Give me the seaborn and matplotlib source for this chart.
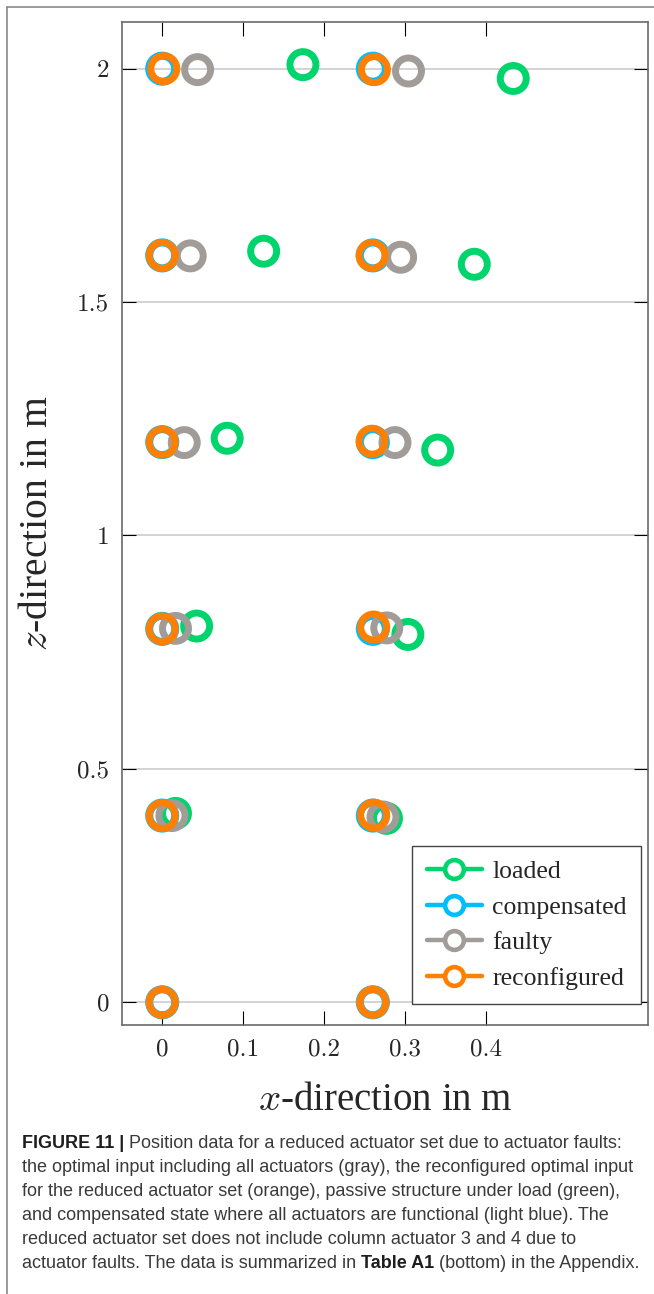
import matplotlib
matplotlib.use("Agg")
import matplotlib.pyplot as plt
import seaborn as sns
from matplotlib.lines import Line2D

# ---- node positions (x, z) in metres for each state ----
loaded_x = [0.0, 0.0164, 0.0425, 0.0802, 0.1252, 0.1737,
            0.26, 0.2768, 0.3032, 0.3400, 0.3852, 0.4333]
loaded_z = [0.0, 0.4047, 0.806, 1.2083, 1.609, 2.0086,
            0.0, 0.394, 0.788, 1.183, 1.581, 1.979]

compensated_x = [0.0, 0.0, 0.0, 0.0, 0.0, 0.0,
                 0.26, 0.26, 0.26, 0.26, 0.26, 0.26]
compensated_z = [0.0, 0.4, 0.8, 1.2, 1.6, 2.0,
                 0.0, 0.4, 0.8, 1.2, 1.6, 2.0]

faulty_x = [0.0, 0.012, 0.0164, 0.0272, 0.0346, 0.0437,
            0.26, 0.2725, 0.2772, 0.2873, 0.2943, 0.304]
faulty_z = [0.0, 0.400, 0.801, 1.199, 1.599, 1.998,
            0.0, 0.397, 0.802, 1.199, 1.596, 1.995]

reconfigured_x = [0.0, 0.0, 0.0, 0.0, 0.0, 0.002,
                  0.26, 0.261, 0.261, 0.259, 0.259, 0.262]
reconfigured_z = [0.0, 0.4, 0.8, 1.2, 1.6, 2.0,
                  0.0, 0.401, 0.804, 1.202, 1.6, 1.998]

series_names = ["loaded", "compensated", "faulty", "reconfigured"]
series_colors = ["#00d46c", "#00bdfd", "#a19c98", "#ff8000"]

x_ticks = [0.0, 0.1, 0.2, 0.3, 0.4]
x_tick_labels = ["0", "0.1", "0.2", "0.3", "0.4"]
z_ticks = [0.0, 0.5, 1.0, 1.5, 2.0]
z_tick_labels = ["0", "0.5", "1", "1.5", "2"]

caption_lines = [
    [("FIGURE 11 |", True), (" Position data for a reduced actuator set due to actuator faults:", False)],
    [("the optimal input including all actuators (gray), the reconfigured optimal input", False)],
    [("for the reduced actuator set (orange), passive structure under load (green),", False)],
    [("and compensated state where all actuators are functional (light blue). The", False)],
    [("reduced actuator set does not include column actuator 3 and 4 due to", False)],
    [("actuator faults. The data is summarized in ", False), ("Table A1", True),
     (" (bottom) in the Appendix.", False)],
]

sns.set_style("white")
plt.rcParams["font.family"] = ["Liberation Serif", "DejaVu Serif"]
plt.rcParams["mathtext.fontset"] = "cm"

W, H = 654, 1294
fig = plt.figure(figsize=(W / 100, H / 100), dpi=100)
ax_l, ax_r, ax_t, ax_b = 121.7, 648.3, 22.0, 1024.7
ax = fig.add_axes([ax_l / W, 1 - ax_b / H, (ax_r - ax_l) / W, (ax_b - ax_t) / H])

all_x = [loaded_x, compensated_x, faulty_x, reconfigured_x]
all_z = [loaded_z, compensated_z, faulty_z, reconfigured_z]
edge_widths = [5.0, 5.8, 5.0, 5.0]
for k, (xs, zs, col, lw) in enumerate(zip(all_x, all_z, series_colors, edge_widths)):
    sns.scatterplot(x=xs, y=zs, ax=ax, marker="o", s=350, facecolor="none",
                    edgecolor=col, linewidth=lw, zorder=3 + k, legend=False)

ax.set_xlim(-0.05, 0.6)
ax.set_ylim(-0.048, 2.1)

ax.set_xticks(x_ticks, labels=x_tick_labels, fontfamily="cmr10", fontsize=18)
ax.set_yticks(z_ticks, labels=z_tick_labels, fontfamily="cmr10", fontsize=18)
ax.tick_params(direction="in", length=10, width=0.8, color="black",
               bottom=True, left=True, top=True, right=True,
               labeltop=False, labelright=False)
ax.tick_params(axis="x", pad=10)
ax.tick_params(axis="y", pad=9)

ax.yaxis.grid(True, color="#cccccc", linewidth=1.2)
ax.xaxis.grid(False)
ax.set_axisbelow(True)
for sp in ax.spines.values():
    sp.set_color("#6a6a6a")
    sp.set_linewidth(1.2)

ax.set_xlabel("$x$-direction in m", fontsize=28, va="center")
ax.xaxis.set_label_coords(0.5, -(1101 - ax_b) / (ax_b - ax_t))
ax.set_ylabel("$z$-direction in m", fontsize=28.5, va="center")
ax.yaxis.set_label_coords(-(ax_l - 38) / (ax_r - ax_l), 0.5)

handles = [Line2D([0], [0], color=c, lw=3.2, marker="o", markersize=13.5,
                  markerfacecolor="white", markeredgecolor=c, markeredgewidth=3.3)
           for c in series_colors]
leg = ax.legend(handles, series_names, loc="lower right",
                bbox_to_anchor=(0.9856, 0.0203), borderaxespad=0,
                prop={"family": "Liberation Serif", "size": 18.5},
                frameon=True, fancybox=False, framealpha=1, edgecolor="#444444",
                handlelength=2.15, handletextpad=0.4, labelspacing=0.5,
                borderpad=0.55)
leg.get_frame().set_linewidth(1.0)
leg.set_zorder(10)

# page frame around the figure and caption
frame_kw = dict(transform=fig.transFigure, color="#808080", linewidth=1.1)
fig.add_artist(Line2D([7 / W, 7 / W], [0, 1 - 7 / H], **frame_kw))
fig.add_artist(Line2D([7 / W, 1], [1 - 7 / H, 1 - 7 / H], **frame_kw))

# caption with bold segments
renderer = fig.canvas.get_renderer()
cap_size = 13.0


def text_width(s, bold):
    probe = fig.text(0, 0, "X" + s + "X", fontsize=cap_size, family="Liberation Sans",
                     fontweight="bold" if bold else "normal")
    ref = fig.text(0, 0, "XX", fontsize=cap_size, family="Liberation Sans",
                   fontweight="bold" if bold else "normal")
    w = probe.get_window_extent(renderer).width - ref.get_window_extent(renderer).width
    probe.remove()
    ref.remove()
    return w


y0, dy = 1143, 24.0
for i, parts in enumerate(caption_lines):
    xpix = 22
    ypix = y0 + i * dy
    for s, bold in parts:
        fig.text(xpix / W, 1 - ypix / H, s, fontsize=cap_size, family="Liberation Sans",
                 fontweight="bold" if bold else "normal",
                 color="#1e1e1e" if bold else "#3a3a3a", ha="left", va="center")
        xpix += text_width(s, bold)

fig.savefig("out.png", dpi=100)
